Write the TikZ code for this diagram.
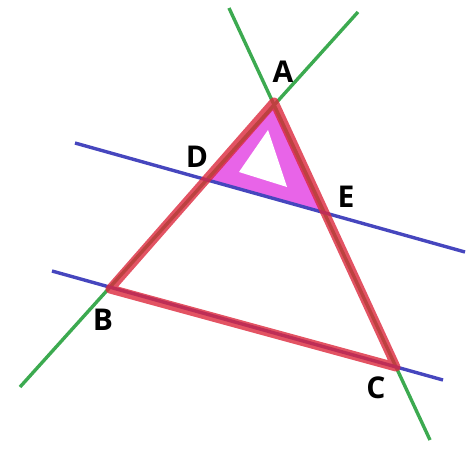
\documentclass[tikz,border=0pt]{standalone}
\usepackage{fontspec}
\setmainfont{Open Sans}
\usetikzlibrary{positioning}

\begin{document}
\begin{tikzpicture}[
    x=1pt, y=-1pt,
    label/.style={font=\fontsize{30}{31}\selectfont\bfseries, inner sep=0pt},
    greenline/.style={draw={rgb,255:red,60;green,170;blue,80}, line width=3.4pt},
    blueline/.style={draw={rgb,255:red,70;green,70;blue,190}, line width=3.4pt},
    shade/.style={fill={rgb,255:red,232;green,100;blue,232}},
    side/.style={draw={rgb,255:red,220;green,40;blue,60}, draw opacity=0.8,
        line width=9pt, line join=round, line cap=round}
]
\useasboundingbox (0,0) rectangle (474,451);

% Triangle corners and points on the sides
\coordinate (A) at (274,102);
\coordinate (B) at (110,289);
\coordinate (C) at (396,367);
\coordinate (D) at (209,180);
\coordinate (E) at (326,212);

% Ends of the lines
\coordinate (ab1) at (358,12);
\coordinate (ab2) at (20,387);
\coordinate (ac1) at (229,8);
\coordinate (ac2) at (430,440);
\coordinate (de1) at (75,143);
\coordinate (de2) at (465,252);
\coordinate (bc1) at (52,271);
\coordinate (bc2) at (443,380);

% Shaded small triangle
\fill[shade] (A) -- (D) -- (E) -- cycle;
\fill[white] (239,172) -- (268,130) -- (287,187) -- cycle;

% Lines
\draw[greenline] (ab1) -- (ab2);
\draw[greenline] (ac1) -- (ac2);
\draw[blueline] (de1) -- (de2);
\draw[blueline] (bc1) -- (bc2);

% Triangle ABC
\draw[side] (A) -- (B) -- (C) -- cycle;

% Labels
\node[label] (lA) at (283,72) {A};
\node[label] (lD) at (197,157) {D};
\node[label] (lE) at (346,197) {E};
\node[label] (lB) at (103,320) {B};
\node[label] (lC) at (376,388) {C};

\end{tikzpicture}
\end{document}
